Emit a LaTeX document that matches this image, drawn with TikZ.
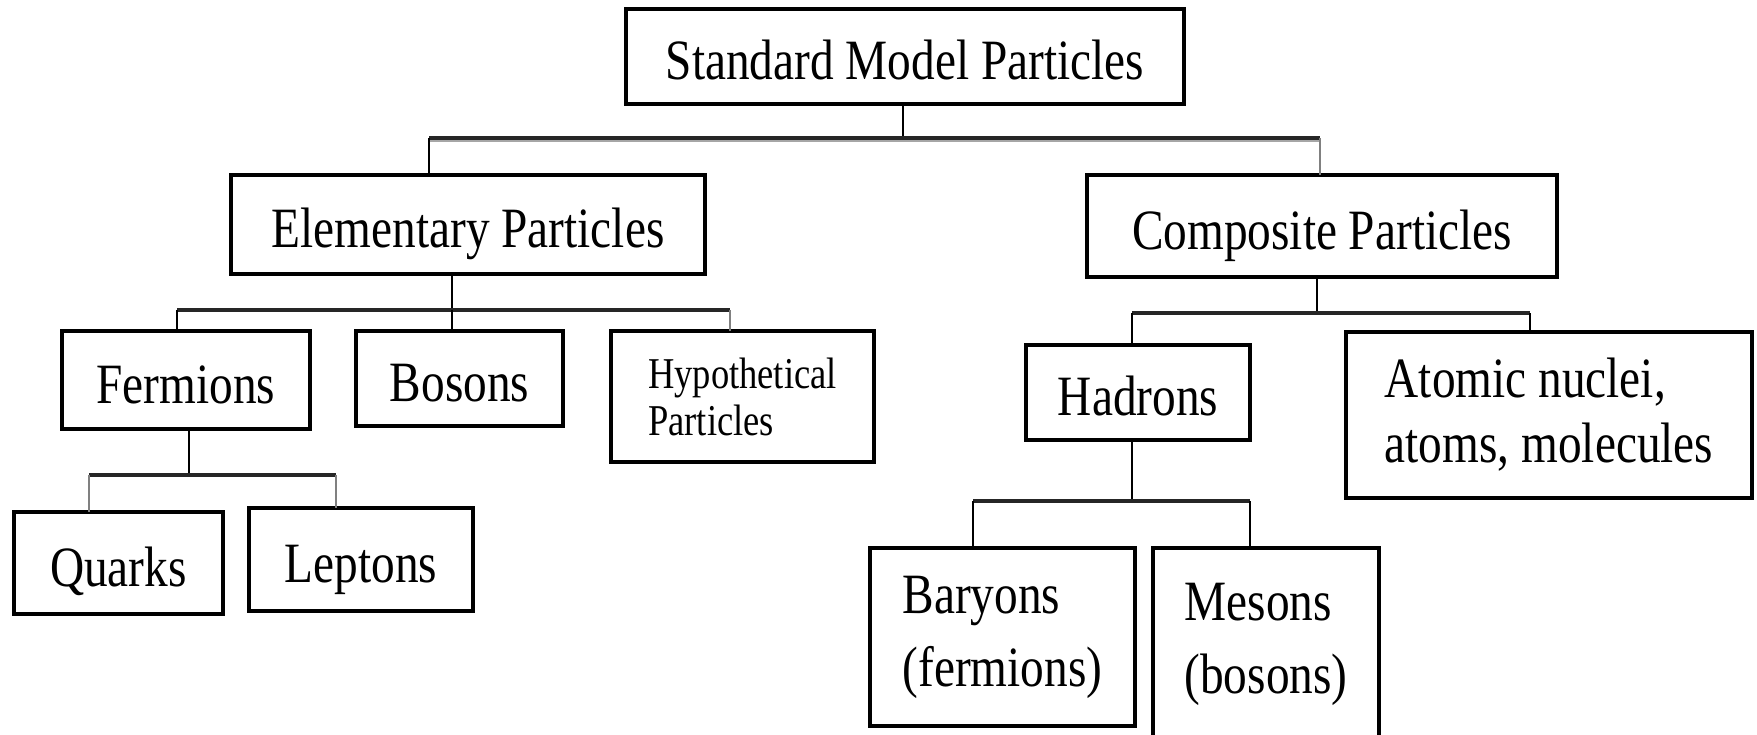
\documentclass[tikz,border=0pt]{standalone}
\usepackage{fontspec}
\setmainfont{Liberation Serif}[FakeStretch=0.83]
\begin{document}
\begin{tikzpicture}[x=1pt,y=-1pt,
  box/.style={draw=black, line width=3.2pt, rectangle, inner sep=0pt, outer sep=0pt,
              font=\fontsize{57}{65}\selectfont},
  oneline/.style={text height=46pt, text depth=0pt},
  stem/.style={draw=black, line width=2.2pt},
  bar/.style={draw=black!85, line width=3.6pt},
  faint/.style={draw=black!50, line width=2.2pt}]
\useasboundingbox (0,0) rectangle (1757,734);
\fill[white] (0,0) rectangle (1757,734);

% boxes
\node[box, oneline, minimum width=558pt, minimum height=95pt]  (smp)   at (905,56.5)   {Standard Model Particles};
\node[box, oneline, minimum width=474pt, minimum height=99pt]  (elem)  at (468,224.5)  {Elementary Particles};
\node[box, oneline, minimum width=470pt, minimum height=102pt] (comp)  at (1322,226)   {Composite Particles};
\node[box, oneline, minimum width=248pt, minimum height=98pt]  (ferm)  at (186,380)    {Fermions};
\node[box, oneline, minimum width=207pt, minimum height=95pt]  (bos)   at (459.5,378.5){Bosons};
\node[box, align=left, font=\fontsize{44}{47}\selectfont,
      minimum width=263pt, minimum height=131pt]               (hyp)   at (742.5,396.5){Hypothetical\\Particles};
\node[box, oneline, minimum width=209pt, minimum height=102pt] (quark) at (118.5,563)  {Quarks};
\node[box, oneline, minimum width=224pt, minimum height=103pt] (lep)   at (361,559.5)  {Leptons};
\node[box, oneline, minimum width=224pt, minimum height=95pt]  (had)   at (1138,392.5) {Hadrons};
\node[box, align=left, minimum width=406pt, minimum height=166pt] (atom) at (1549,415) {Atomic nuclei,\\atoms, molecules};
\node[box, align=left, font=\fontsize{57}{73}\selectfont,
      minimum width=265pt, minimum height=178pt]               (bary)  at (1002.5,637) {Baryons\\(fermions)};
\node[box, align=left, font=\fontsize{57}{73}\selectfont,
      minimum width=226pt, minimum height=192pt]               (mes)   at (1266,644)   {Mesons\\(bosons)};

% branch points
\coordinate (tL) at (429,138);   \coordinate (tR) at (1320,138);
\coordinate (eL) at (177,310);   \coordinate (eM) at (452,310);  \coordinate (eR) at (730,310);
\coordinate (fL) at (89,475);    \coordinate (fM) at (189,475);  \coordinate (fR) at (336,475);
\coordinate (cL) at (1132,313);  \coordinate (cM) at (1317,313); \coordinate (cR) at (1530,313);
\coordinate (hL) at (973,501);   \coordinate (hM) at (1132,501); \coordinate (hR) at (1250,501);

% top level
\draw[stem] (smp.south -| 903,0) -- (tL -| 903,0);
\draw[draw=black!35, line width=2.4pt] ([yshift=-2.8pt]tL) -- ([yshift=-2.8pt]tR);
\draw[bar] (tL) -- (tR);
\draw[stem] (tL) -- (tL |- elem.north);
\draw[faint] (tR) -- (tR |- comp.north);

% elementary particles
\draw[stem] (elem.south -| eM) -- (eM);
\draw[bar] (eL) -- (eR);
\draw[stem] (eL) -- (eL |- ferm.north);
\draw[stem] (eM) -- (eM |- bos.north);
\draw[faint] (eR) -- (eR |- hyp.north);

% fermions
\draw[stem] (ferm.south -| fM) -- (fM);
\draw[bar] (fL) -- (fR);
\draw[faint] (fL) -- (fL |- quark.north);
\draw[faint] (fR) -- (fR |- lep.north);

% composite particles
\draw[stem] (comp.south -| cM) -- (cM);
\draw[bar] (cL) -- (cR);
\draw[stem] (cL) -- (cL |- had.north);
\draw[stem] (cR) -- (cR |- atom.north);

% hadrons
\draw[stem] (had.south -| hM) -- (hM);
\draw[bar] (hL) -- (hR);
\draw[stem] (hL) -- (hL |- bary.north);
\draw[stem] (hR) -- (hR |- mes.north);
\end{tikzpicture}
\end{document}
